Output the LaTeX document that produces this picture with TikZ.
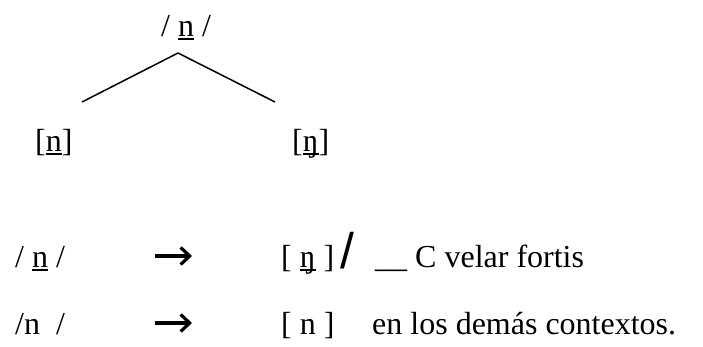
\documentclass[tikz,border=0pt]{standalone}
\usepackage{fontspec}
\setmainfont{Liberation Serif}
\newfontfamily\sansf{Liberation Sans}
\usetikzlibrary{arrows.meta}
\newcommand\ubar[1]{\setbox0\hbox{#1}\rlap{\rule[-0.11em]{\wd0}{0.055em}}\copy0\relax}
\tikzset{
  txt/.style={inner sep=0pt, anchor=base west, font=\fontsize{32}{38}\selectfont},
  branch/.style={line width=1.5pt},
  rulearrow/.style={line width=3.2pt, -{Straight Barb[length=9pt,width=17pt,line width=3.2pt]}},
}
\begin{document}
\begin{tikzpicture}[x=1pt,y=-1pt]
\useasboundingbox (0,0) rectangle (703,346);
% tree
\node[txt] (top) at (161,36) {/ \ubar{n} /};
\coordinate (apex) at (178,53);
\coordinate (lend) at (82,102);
\coordinate (rend) at (275,102);
\draw[branch] (lend) -- (apex) -- (rend);
\node[txt] (left) at (35,151) {[\ubar{n}]};
\node[txt] (right) at (292,151) {[\ubar{ŋ}]};
% rule 1
\node[txt] (r1a) at (15,267) {/ \ubar{n} /};
\coordinate (a1s) at (155,256);
\coordinate (a1e) at (192,256);
\draw[rulearrow] (a1s) -- (a1e);
\node[txt] (r1b) at (281,267) {[ \ubar{ŋ} ]};
\node[inner sep=0pt, anchor=base west, font=\sansf\fontsize{50}{56}\selectfont] (slash) at (340,268) {/};
\node[txt] (r1c) at (375,267) {\_\_ C velar fortis};
% rule 2
\node[txt] (r2a) at (15,334) {/n\ \ /};
\coordinate (a2s) at (155,323);
\coordinate (a2e) at (192,323);
\draw[rulearrow] (a2s) -- (a2e);
\node[txt] (r2b) at (281,334) {[ n ]};
\node[txt] (r2c) at (372,334) {en los demás contextos.};
\end{tikzpicture}
\end{document}
